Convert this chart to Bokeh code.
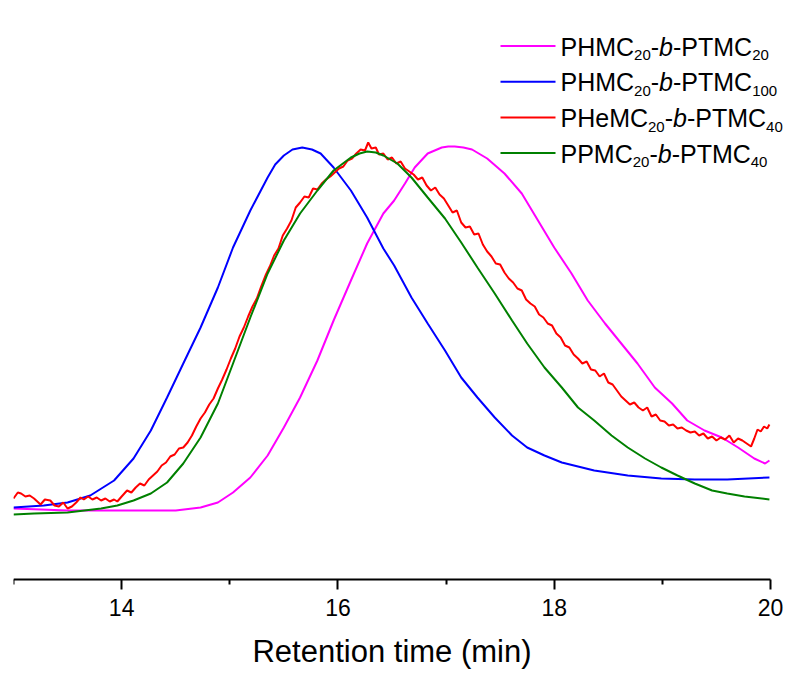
from bokeh.plotting import figure
from bokeh.models import Range1d, FixedTicker, Label
from bokeh.embed import file_html
from bokeh.resources import INLINE

# ---------------- data (retention time in min, detector signal in a.u.) ----------------
series_names = ["PHMC20-b-PTMC20", "PHMC20-b-PTMC100", "PHeMC20-b-PTMC40", "PPMC20-b-PTMC40"]

t_magenta = [13.00, 13.50, 14.00, 14.50, 14.73, 14.89, 15.03, 15.19, 15.35, 15.50, 15.65, 15.81,
             15.96, 16.12, 16.27, 16.42, 16.52, 16.62, 16.71, 16.83, 16.96, 17.02, 17.08, 17.16,
             17.24, 17.38, 17.54, 17.70, 17.85, 18.00, 18.16, 18.31, 18.47, 18.62, 18.77, 18.93,
             19.09, 19.23, 19.39, 19.55, 19.70, 19.85, 19.95, 19.99]
i_magenta = [2, 0, 0, 0, 3, 8, 18, 33, 55, 83, 113, 150,
             190, 230, 267, 297, 310, 327, 343, 357, 363, 364, 364, 363,
             361, 352, 337, 317, 290, 263, 237, 210, 187, 167, 147, 123,
             107, 90, 80, 73, 63, 52, 47, 50]

t_blue = [13.00, 13.28, 13.50, 13.71, 13.93, 14.11, 14.27, 14.42, 14.57, 14.73, 14.89, 15.03,
          15.19, 15.35, 15.42, 15.50, 15.58, 15.67, 15.76, 15.84, 15.96, 16.12, 16.27, 16.42,
          16.52, 16.58, 16.68, 16.83, 16.99, 17.14, 17.29, 17.45, 17.61, 17.75, 17.91, 18.07,
          18.37, 18.68, 18.99, 19.30, 19.60, 19.99]
i_blue = [3, 5, 8, 15, 30, 52, 80, 113, 147, 183, 223, 263,
          300, 333, 346, 355, 361, 363, 361, 357, 343, 320, 293, 262,
          245, 233, 213, 187, 160, 133, 113, 93, 75, 63, 55, 48,
          40, 35, 32, 31, 31, 33]

t_red = [13.00, 13.04, 13.07, 13.11, 13.15, 13.19, 13.22, 13.25, 13.29, 13.34, 13.38, 13.42,
         13.46, 13.50, 13.54, 13.58, 13.62, 13.65, 13.69, 13.73, 13.77, 13.81, 13.85, 13.89,
         13.93, 13.96, 14.00, 14.05, 14.09, 14.13, 14.17, 14.21, 14.25, 14.29, 14.33, 14.37,
         14.41, 14.45, 14.49, 14.53, 14.57, 14.61, 14.65, 14.69, 14.73, 14.77, 14.81, 14.85,
         14.89, 14.93, 14.97, 15.01, 15.05, 15.09, 15.13, 15.17, 15.21, 15.25, 15.29, 15.33,
         15.37, 15.41, 15.45, 15.49, 15.53, 15.57, 15.61, 15.65, 15.69, 15.73, 15.77, 15.81,
         15.85, 15.89, 15.93, 15.97, 16.01, 16.05, 16.09, 16.13, 16.17, 16.21, 16.25, 16.28,
         16.31, 16.35, 16.38, 16.42, 16.46, 16.50, 16.54, 16.58, 16.62, 16.66, 16.70, 16.74,
         16.78, 16.82, 16.86, 16.90, 16.94, 16.98, 17.02, 17.06, 17.10, 17.14, 17.18, 17.22,
         17.26, 17.30, 17.34, 17.38, 17.42, 17.46, 17.50, 17.54, 17.58, 17.62, 17.66, 17.70,
         17.74, 17.78, 17.82, 17.86, 17.90, 17.94, 17.98, 18.02, 18.06, 18.10, 18.14, 18.18,
         18.22, 18.26, 18.30, 18.34, 18.38, 18.42, 18.46, 18.50, 18.54, 18.58, 18.62, 18.66,
         18.70, 18.74, 18.78, 18.82, 18.86, 18.90, 18.94, 18.98, 19.02, 19.06, 19.10, 19.14,
         19.18, 19.22, 19.26, 19.30, 19.34, 19.38, 19.42, 19.46, 19.50, 19.54, 19.58, 19.62,
         19.66, 19.70, 19.74, 19.78, 19.82, 19.85, 19.88, 19.91, 19.94, 19.97, 19.99]
i_red = [12, 18, 17, 14, 15, 12, 9, 6, 11, 10, 5, 4,
         8, 2, 4, 8, 13, 11, 14, 11, 13, 10, 12, 9,
         11, 9, 14, 20, 18, 23, 27, 25, 31, 35, 39, 45,
         48, 54, 56, 62, 63, 68, 75, 84, 92, 98, 106, 112,
         122, 131, 141, 152, 162, 174, 183, 194, 204, 212, 224, 235,
         244, 255, 262, 275, 282, 290, 303, 308, 314, 313, 322, 321,
         327, 331, 334, 338, 342, 344, 350, 352, 357, 361, 360, 368,
         362, 363, 356, 357, 351, 353, 347, 349, 342, 339, 336, 331,
         333, 325, 320, 323, 316, 312, 305, 298, 300, 288, 283, 284,
         276, 277, 266, 259, 254, 247, 246, 238, 232, 228, 222, 220,
         211, 207, 204, 196, 193, 187, 185, 177, 173, 165, 163, 156,
         152, 147, 149, 141, 140, 134, 137, 128, 126, 120, 114, 110,
         106, 108, 103, 100, 103, 94, 96, 90, 89, 85, 86, 82,
         83, 80, 78, 79, 75, 77, 72, 74, 70, 73, 71, 75,
         68, 72, 70, 67, 64, 72, 81, 79, 84, 82, 86]

t_green = [13.00, 13.19, 13.50, 13.81, 13.96, 14.11, 14.27, 14.42, 14.57, 14.73, 14.89, 15.03,
           15.19, 15.35, 15.50, 15.65, 15.81, 15.96, 16.12, 16.20, 16.27, 16.35, 16.42, 16.55,
           16.68, 16.83, 16.99, 17.14, 17.29, 17.45, 17.61, 17.75, 17.91, 18.07, 18.22, 18.37,
           18.53, 18.68, 18.84, 18.99, 19.14, 19.30, 19.46, 19.60, 19.76, 19.99]
i_green = [-4, -3, -2, 2, 5, 10, 17, 28, 47, 73, 107, 147,
           193, 237, 270, 297, 320, 340, 353, 357, 359, 358, 355, 347,
           333, 313, 292, 268, 243, 217, 190, 167, 143, 123, 103, 90,
           75, 63, 52, 43, 35, 27, 20, 17, 14, 11]

x_major_ticks = [14, 16, 18, 20]
x_minor_ticks = [13, 15, 17, 19]

# ---------------- styles / layout ----------------
colors = ["#FF00FF", "#0000FF", "#FF0000", "#008000"]
FONT = "Liberation Sans"
W, H = 794, 675
LEFT = 13                 # page x of t = 13 min
XS = 757 / 7.0            # pixels per minute
X0 = 13.0
X1 = X0 + (W - LEFT) / XS
Y1 = 510.0                # signal at the top edge of the plot area
Y0 = Y1 - H
AXIS_Y = -69.0            # where the time axis is drawn

p = figure(width=W, height=H, output_backend="svg", toolbar_location=None,
           x_range=Range1d(X0, X1), y_range=Range1d(Y0, Y1),
           y_axis_location=None,
           min_border_left=LEFT, min_border_right=0,
           min_border_top=0, min_border_bottom=0)
p.outline_line_color = None
p.grid.visible = False
p.background_fill_color = "white"
p.border_fill_color = "white"

ax = p.xaxis[0]
ax.fixed_location = AXIS_Y
ax.bounds = (13, 20)
ax.ticker = FixedTicker(ticks=x_major_ticks, minor_ticks=x_minor_ticks)
ax.axis_line_width = 2
ax.axis_line_color = "black"
ax.major_tick_line_width = 2
ax.minor_tick_line_width = 2
ax.major_tick_in = 0
ax.major_tick_out = 10
ax.minor_tick_in = 0
ax.minor_tick_out = 5
ax.major_label_text_font = FONT
ax.major_label_text_font_size = "23px"
ax.major_label_text_color = "black"
ax.major_label_standoff = 9
ax.axis_label = "Retention time (min)"
ax.axis_label_text_font = FONT
ax.axis_label_text_font_size = "31px"
ax.axis_label_text_font_style = "normal"
ax.axis_label_text_color = "black"
ax.axis_label_standoff = 15

series = [(t_magenta, i_magenta), (t_blue, i_blue), (t_red, i_red), (t_green, i_green)]
for (tx, iy), c in zip(series, colors):
    p.line(tx, iy, line_color=c, line_width=2)

# ---------------- legend (drawn by hand for subscripts / italic b) ----------------
def dx(px):  # page pixel -> data x
    return X0 + (px - LEFT) / XS
def dy(py):  # page pixel -> data y
    return Y1 - py

ARIAL = {"P": 667, "H": 722, "M": 833, "C": 722, "e": 556, "b": 556, "T": 611,
         "-": 333, "0": 556, "1": 556, "2": 556, "4": 556}
def tw(s, size):
    return sum(ARIAL[ch] for ch in s) * size / 1000.0

MAIN, SUB = 25, 15
legend_parts = [
    [("PHMC", "n"), ("20", "s"), ("-", "n"), ("b", "i"), ("-PTMC", "n"), ("20", "s")],
    [("PHMC", "n"), ("20", "s"), ("-", "n"), ("b", "i"), ("-PTMC", "n"), ("100", "s")],
    [("PHeMC", "n"), ("20", "s"), ("-", "n"), ("b", "i"), ("-PTMC", "n"), ("40", "s")],
    [("PPMC", "n"), ("20", "s"), ("-", "n"), ("b", "i"), ("-PTMC", "n"), ("40", "s")],
]
leg_line_x0, leg_line_x1, leg_text_x = 500, 555, 560   # page pixels
leg_base0, leg_step = 55, 35.7
for k, (parts, c) in enumerate(zip(legend_parts, colors)):
    base = leg_base0 + k * leg_step
    ly = dy(base - 9.5)
    p.segment(x0=[dx(leg_line_x0)], y0=[ly], x1=[dx(leg_line_x1)], y1=[ly],
              line_color=c, line_width=2)
    x = leg_text_x
    for txt, kind in parts:
        size = SUB if kind == "s" else MAIN
        yb = base + (5 if kind == "s" else 0) - 0.36 * size
        p.add_layout(Label(x=dx(x), y=dy(yb), text=txt, text_font=FONT,
                           text_font_size=f"{size}px",
                           text_font_style="italic" if kind == "i" else "normal",
                           text_color="black", text_align="left",
                           text_baseline="alphabetic"))
        x += tw(txt, size)

open("out.html", "w").write(file_html(p, INLINE))
